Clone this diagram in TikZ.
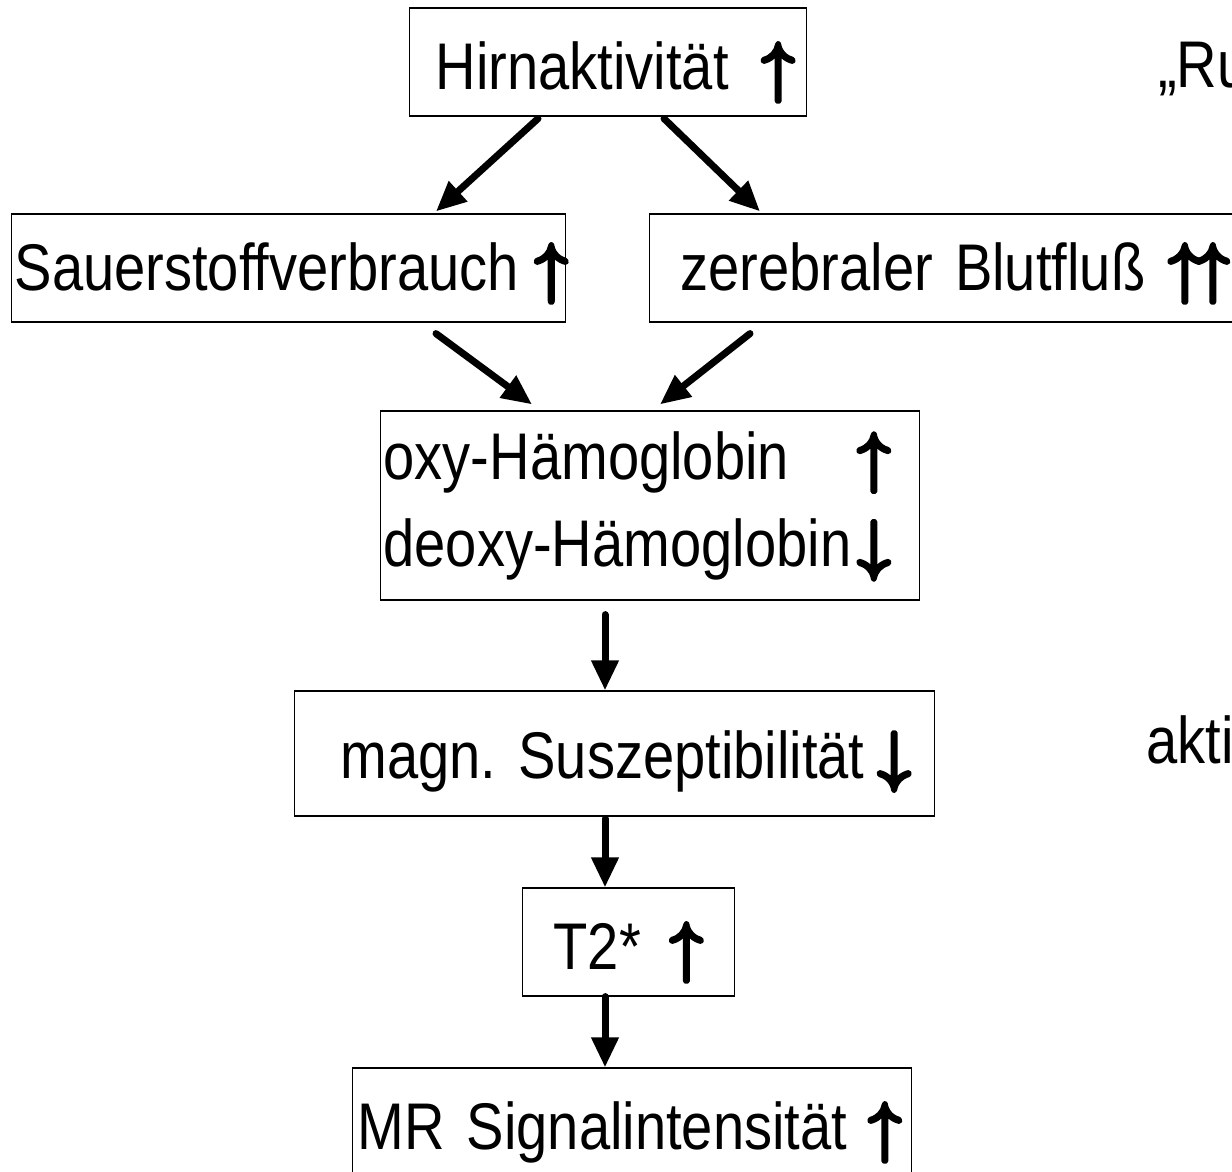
\RequirePackage{fix-cm}
\documentclass[tikz,border=0pt]{standalone}
\usepackage{fontspec}
\setmainfont[FakeStretch=0.85]{Liberation Sans}
\usetikzlibrary{arrows.meta}

% heavy up / down arrows in the text line
\newcommand{\heavy}[1]{\special{pdf:literal direct 2 Tr 4.5 w 1 j}#1\special{pdf:literal direct 0 Tr 0.4 w 0 j}}
\newcommand{\incr}{\mbox{\heavy{$\uparrow$}}}
\newcommand{\decr}{\mbox{\heavy{$\downarrow$}}}
\newcommand{\lab}{\fontsize{66}{85}\selectfont\fontdimen2\font=15pt\fontdimen3\font=0pt\fontdimen4\font=0pt\frenchspacing}

\begin{document}
\begin{tikzpicture}[x=1pt, y=-1pt,
		box/.style={draw, line width=1.2pt, inner sep=0pt, anchor=west, text width=#1, align=left, minimum height=108pt, font=\lab, text height=60pt, text depth=6pt},
		arr/.style={line width=7pt, line cap=round, -{Triangle[length=30pt,width=26pt]}},
		side/.style={inner sep=0pt, font=\lab, anchor=base west}]
	\useasboundingbox (0,0) rectangle (1232,1172);
	% Boxes
	\node[box=397pt] (hirn) at (409,62) {\mbox{\hspace*{26pt}Hirnaktivität\hspace{33pt}\incr}};
	\node[box=554pt, text height=50pt] (sauer) at (11,268) {\mbox{\hspace*{3pt}Sauerstoffverbrauch\hspace{16pt}\incr}};
	\node[box=620pt, text height=50pt] (zereb) at (649,268) {\mbox{\hspace*{31pt}zerebraler Blutfluß\hspace{23pt}\incr\kern-5pt\incr}};
	\node[box=539pt, minimum height=189pt, text height=, text depth=] (hemo) at (380,505.5) {%
		\renewcommand{\arraystretch}{1.03}%
		\hspace*{3pt}\begin{tabular}{@{}l@{\hspace{6pt}}c@{}}
			oxy-Hämoglobin & \incr\\
			deoxy-Hämoglobin & \decr
		\end{tabular}};
	\node[box=640pt, minimum height=125pt, text height=55pt] (magn) at (294,753.5) {\mbox{\hspace*{46pt}magn. Suszeptibilität\hspace{13pt}\decr}};
	\node[box=212pt] (t2) at (522,942) {\mbox{\hspace*{31pt}T2*\hspace{29pt}\incr}};
	\node[box=559pt] (mr) at (352,1122) {\mbox{\hspace*{5pt}MR Signalintensität\hspace{21pt}\incr}};
	% Side texts
	\node[side] (ruhe) at (1158,88) {„Ru};
	\node[side] (aktiv) at (1146,763) {akti};
	% Arrows
	\coordinate (spine) at (605,0);
	\draw[arr] ([xshift=129pt, yshift=-2pt]hirn.south west) -- ([xshift=425pt, yshift=2pt]sauer.north west);
	\draw[arr] ([xshift=255pt, yshift=-2pt]hirn.south west) -- ([xshift=111pt, yshift=2pt]zereb.north west);
	\draw[arr] ([xshift=425pt, yshift=-11pt]sauer.south west) -- ([xshift=152pt, yshift=6pt]hemo.north west);
	\draw[arr] ([xshift=101pt, yshift=-11pt]zereb.south west) -- ([xshift=280pt, yshift=6pt]hemo.north west);
	\draw[arr] ([yshift=-14pt]hemo.south -| spine) -- (magn.north -| spine);
	\draw[arr] ([yshift=-2pt]magn.south -| spine) -- (t2.north -| spine);
	\draw[arr] (t2.south -| spine) -- (mr.north -| spine);
\end{tikzpicture}
\end{document}
